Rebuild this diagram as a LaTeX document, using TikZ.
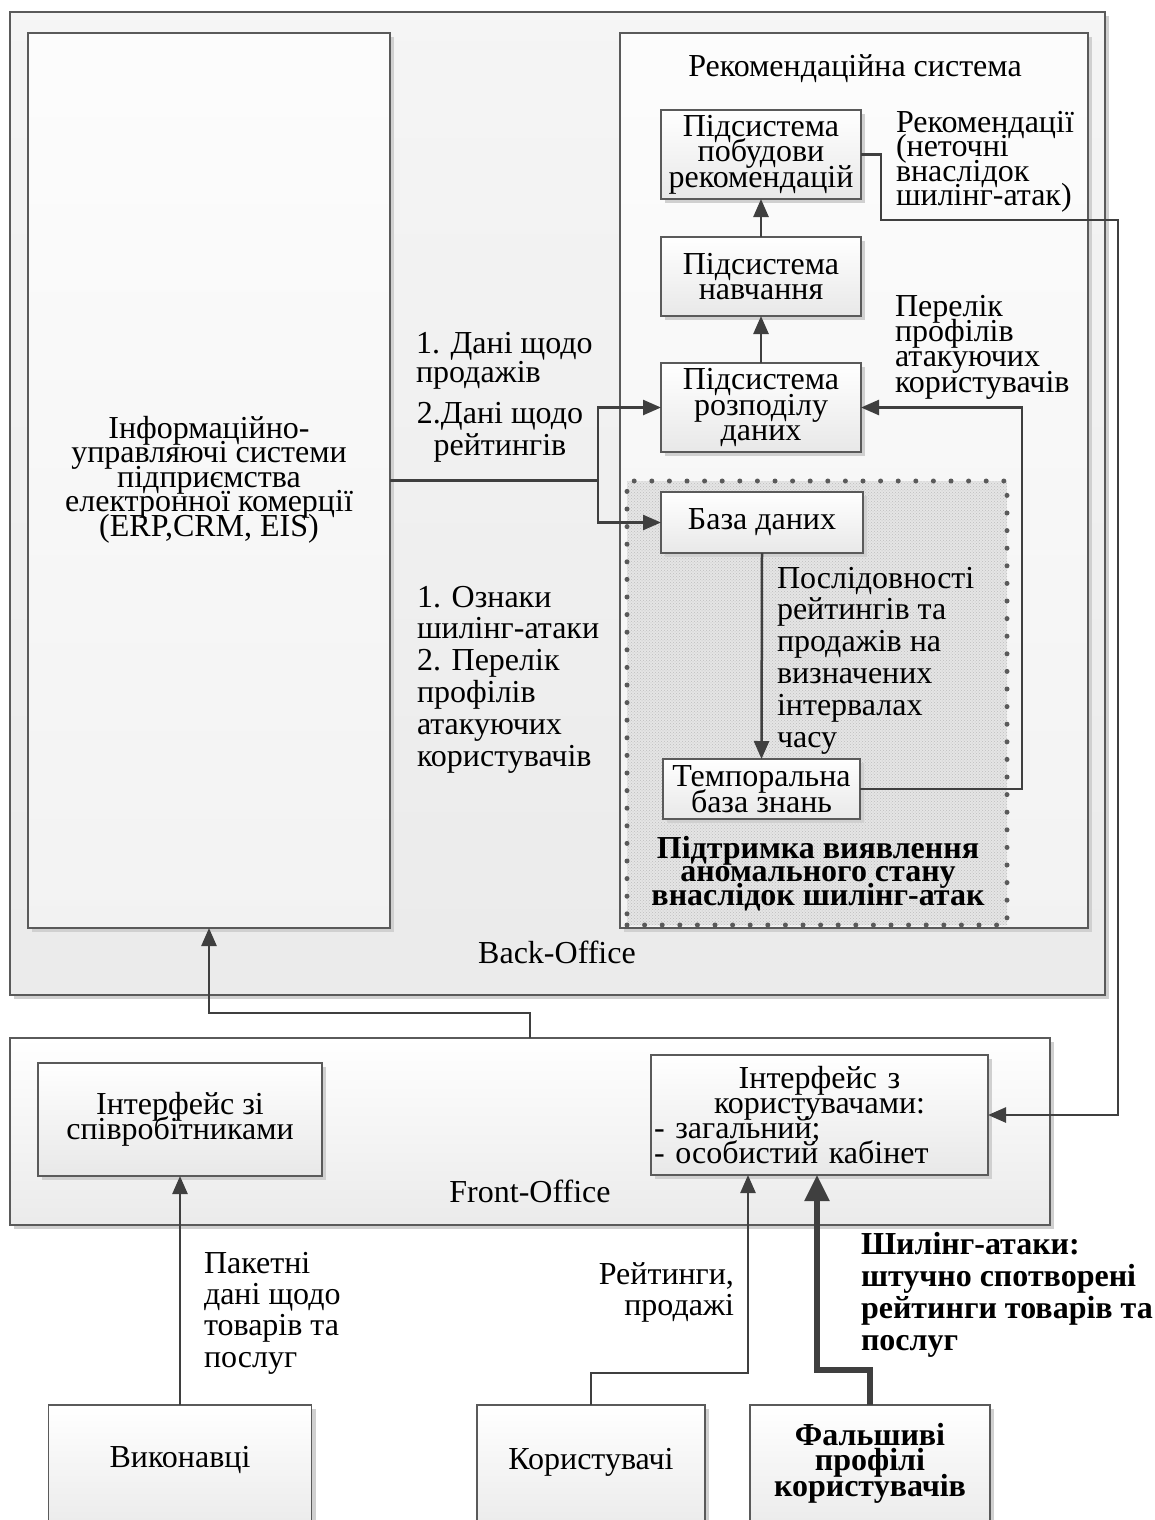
\documentclass[tikz,border=0pt]{standalone}
\usepackage{fontspec}
\setmainfont{Liberation Serif}
\usetikzlibrary{arrows.meta,shadows,patterns}

\definecolor{wire}{HTML}{3F3F3F}
\definecolor{frame}{HTML}{5A5A5A}
\definecolor{shade}{HTML}{D0D0D0}

% font of size 32 with a fixed line spacing (no extra \lineskip)
\newcommand{\fsz}[1]{\fontsize{32}{#1}\selectfont\lineskiplimit=-100pt\lineskip=0pt}

\begin{document}
\begin{tikzpicture}[x=1pt,y=-1pt,
  every node/.style={inner sep=0pt, outer sep=0pt},
  block/.style={draw=frame, line width=1.3pt, rectangle, align=center,
     font=\fsz{25.5}, top color=white, bottom color=black!9,
     drop shadow={shadow xshift=4pt, shadow yshift=-4pt, fill=shade, opacity=1}},
  panel/.style={block, top color=black!1, bottom color=black!5},
  office/.style={block, top color=black!4, bottom color=black!8},
  frontoffice/.style={block, top color=white, bottom color=black!8},
  zone/.style={rectangle, preaction={fill=black!10}, pattern=crosshatch dots,
     pattern color=black!26, draw=frame, line width=5pt, line cap=round,
     dash pattern=on 0pt off 17.6pt},
  link/.style={draw=wire, line width=2.5pt, -{Triangle[length=18pt,width=15pt]}},
  plain/.style={draw=wire, line width=2.5pt},
  heavy/.style={draw=wire, line width=5.5pt, -{Triangle[length=26pt,width=24pt]}},
  note/.style={align=left},
]
\useasboundingbox (0,0) rectangle (1155,1520);
\fill[white] (0,0) rectangle (1155,1520);
\clip (0,0) rectangle (1155,1520);

% ---------- Back-Office ----------
\node[office, minimum width=1095pt, minimum height=983pt] (back) at (557.5,503.5) {};
\node[font=\fsz{32}, anchor=base] (backlbl) at (557,963) {Back-Office};

\node[panel, minimum width=362pt, minimum height=895pt] (info) at (209,480.5) {};
\node[font=\fsz{24.5}, align=center, anchor=base] (infotext) at (209,536)
  {Інформаційно-\\управляючі системи\\підприємства\\електронної комерції\\(ERP,CRM, EIS)};

\node[panel, minimum width=468pt, minimum height=895pt] (rec) at (854,480.5) {};
\node[font=\fsz{32}, anchor=base] (rectitle) at (855,76) {Рекомендаційна система};

% anomaly detection support area
\node[zone, minimum width=380pt, minimum height=444pt] (zonebox) at (817,703) {};
\node[font=\bfseries\fsz{23.5}, align=center, anchor=base] (zonetitle) at (818,905)
  {Підтримка виявлення\\аномального стану\\внаслідок шилінг-атак};

% subsystems
\node[block, minimum width=200pt, minimum height=89pt] (build) at (761,154.5) {Підсистема\\побудови\\рекомендацій};
\node[block, minimum width=200pt, minimum height=79pt] (learn) at (761,276.5) {Підсистема\\навчання};
\node[block, minimum width=200pt, minimum height=89pt] (distr) at (761,407.5) {Підсистема\\розподілу\\даних};
\node[block, minimum width=202pt, minimum height=61pt] (db) at (762,522.5) {База даних};
\node[block, minimum width=197pt, minimum height=60pt] (temp) at (761.5,789) {Темпоральна\\база знань};

% labels inside the back office (anchored at the last baseline)
\node[note, font=\fsz{24.5}, anchor=base west] (recout) at (896,205.5)
  {Рекомендації\\(неточні\\внаслідок\\шилінг-атак)};
\node[note, font=\fsz{25.3}, anchor=base west] (attlist) at (895,392)
  {Перелік\\профілів\\атакуючих\\користувачів};
\node[note, font=\fsz{31.8}, anchor=base west] (seqlbl) at (777,747)
  {Послідовності\\рейтингів та\\продажів на\\визначених\\інтервалах\\часу};
\node[note, font=\fsz{29}, anchor=base west] (salesl) at (416,382) {1. Дані щодо\\продажів};
\node[align=center, font=\fsz{32}, anchor=base] (ratel) at (500,455) {2.Дані щодо\\рейтингів};
\node[note, font=\fsz{31.8}, anchor=base west] (signl) at (417,766)
  {1. Ознаки\\шилінг-атаки\\2. Перелік\\профілів\\атакуючих\\користувачів};

% ---------- Front-Office ----------
\node[frontoffice, minimum width=1040pt, minimum height=187pt] (front) at (530,1131.5) {};
\node[font=\fsz{32}, anchor=base] (frontlbl) at (530,1202) {Front-Office};
\node[block, minimum width=284pt, minimum height=113pt] (emp) at (180,1119.5) {Інтерфейс зі\\співробітниками};
\node[block, minimum width=337pt, minimum height=120pt, font=\fsz{25}, text width=331pt, align=left] (usr) at (819.5,1115)
  {\parindent=0pt{\centering Інтерфейс з\\користувачами:\par}\noindent- загальний;\\- особистий кабінет};

% ---------- sources ----------
\node[block, minimum width=263pt, minimum height=140pt] (exec) at (180,1475) {};
\node[font=\fsz{25}] (execname) at (180,1460) {Виконавці};
\node[block, minimum width=228pt, minimum height=140pt] (users) at (591,1475) {};
\node[font=\fsz{25}] (usersname) at (591,1462) {Користувачі};
\node[block, minimum width=240pt, minimum height=140pt] (fake) at (870,1475) {};
\node[font=\bfseries\fsz{25.5}, align=center] (fakename) at (870,1463) {Фальшиві\\профілі\\користувачів};

\node[note, font=\fsz{31.3}, anchor=base west] (packl) at (204,1367) {Пакетні\\дані щодо\\товарів та\\послуг};
\node[align=right, font=\fsz{31}, anchor=base east] (ratesl) at (734,1315) {Рейтинги,\\продажі};
\node[note, font=\bfseries\fsz{31.7}, anchor=base west] (attackl) at (861,1350)
  {Шилінг-атаки:\\штучно спотворені\\рейтинги товарів та\\послуг};

% ---------- connectors ----------
\coordinate (split) at (598,480.5);
\draw[plain] (info.east) -- (split);
\draw[link] (split) |- (distr.west);
\draw[link] (split) |- (db.west);
\draw[link] (distr.north) -- (learn.south);
\draw[link] (learn.north) -- (build.south);
\draw[link] (db.south) -- (temp.north);

\coordinate (fbk) at (1022,600);
\draw[link] (temp.east) -| (fbk) |- (distr.east);

\coordinate (r1) at (881,220);
\coordinate (r2) at (1118,220);
\draw[link] (build.east) -| (r1) -- (r2) |- (usr.east);

\coordinate (fj) at (530,1013);
\draw[link] (front.north) -- (fj) -| (info.south);

\draw[link] (exec.north) -- (emp.south);

\coordinate (uj) at (748,1373);
\draw[link] (users.north) |- (uj) -- (uj |- usr.south);

\coordinate (kj) at (817,1370);
\draw[heavy] (fake.north) |- (kj) -- (kj |- usr.south);
\end{tikzpicture}
\end{document}
